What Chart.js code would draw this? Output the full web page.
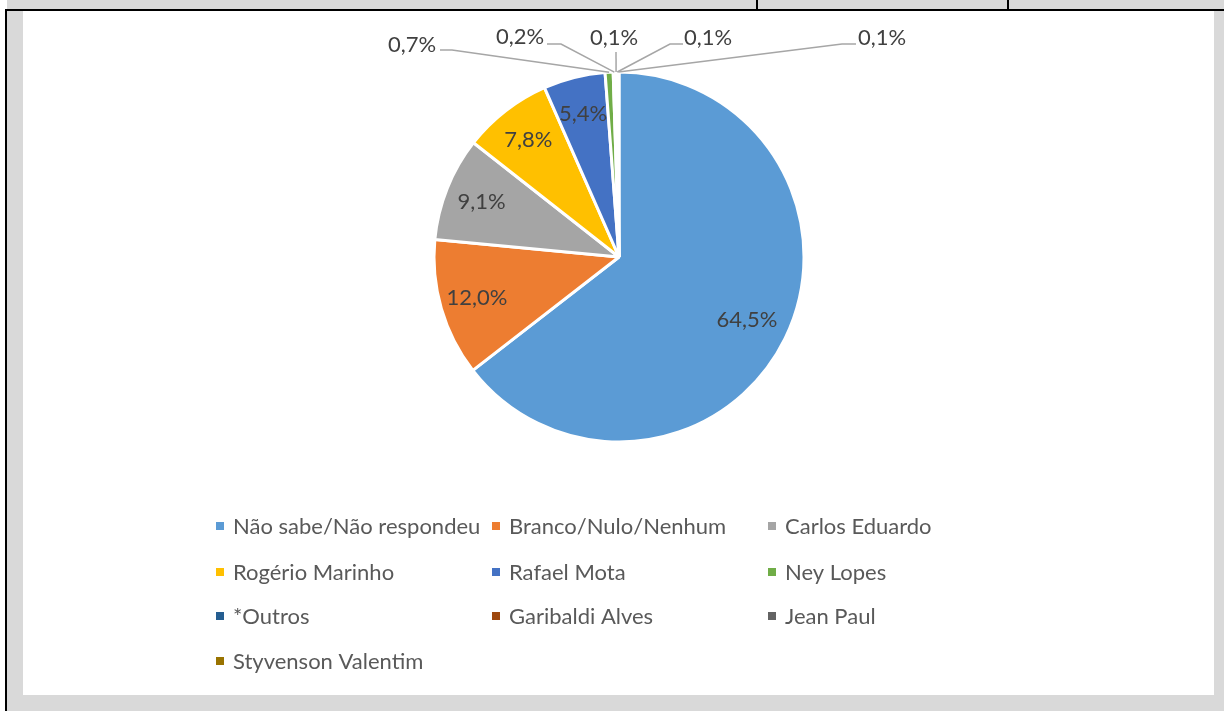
<!DOCTYPE html>
<html>
<head>
<meta charset="utf-8">
<script src="https://cdn.jsdelivr.net/npm/chart.js@4.4.1/dist/chart.umd.min.js"></script>
<style>
  html, body { margin: 0; padding: 0; background: #fff; }
  body { width: 1224px; height: 711px; position: relative; overflow: hidden; font-family: Lato, sans-serif; }
  .band { position: absolute; left: 7px; top: 0; width: 1217px; height: 9px; background: #d9d9d9; }
  .hline { position: absolute; left: 5px; top: 9px; width: 1219px; height: 2px; background: #000; }
  .vline { position: absolute; top: 0; width: 2px; height: 9px; background: #000; }
  .lline { position: absolute; left: 5px; top: 9px; width: 2px; height: 702px; background: #000; }
  .grey { position: absolute; left: 7px; top: 11px; right: 0; bottom: 0; background: #d9d9d9; }
  #wrap { position: absolute; left: 23px; top: 11px; width: 1191px; height: 684px; background: #fff; }
</style>
</head>
<body>
<div class="band"></div>
<div class="vline" style="left:756px"></div>
<div class="vline" style="left:1007px"></div>
<div class="hline"></div>
<div class="grey"></div>
<div class="lline"></div>
<div id="wrap"><canvas id="myChart" width="1191" height="684"></canvas></div>
<script>
const categories = ["Não sabe/Não respondeu", "Branco/Nulo/Nenhum", "Carlos Eduardo",
  "Rogério Marinho", "Rafael Mota", "Ney Lopes", "*Outros", "Garibaldi Alves",
  "Jean Paul", "Styvenson Valentim"];
const shares = [64.5, 12.0, 9.1, 7.8, 5.4, 0.7, 0.2, 0.1, 0.1, 0.1];
const colors = ["#5B9BD5", "#ED7D31", "#A5A5A5", "#FFC000", "#4472C4",
  "#70AD47", "#255E91", "#9E480E", "#636363", "#997300"];

// callout label placement for the thin slices, offsets from pie centre
const callouts = {
  5: { text: [-207, -212], stub: [[-179, -207], [-167, -207]] },
  6: { text: [-99, -220], stub: [[-72, -213], [-58, -213]] },
  7: { text: [-5, -219], stub: [[-3, -205], [-3, -205]] },
  8: { text: [89, -219], stub: [[64, -213], [51, -213]] },
  9: { text: [263, -219], stub: [[237, -213], [223, -213]] },
};

// legend grid (canvas px)
const legendCols = [193, 469, 745];
const legendRows = [515, 561, 605, 650];

const FONT = "22px Lato";

function fmt(v) {
  return v.toFixed(1).replace(".", ",") + "%";
}

const labelPlugin = {
  id: "pieLabels",
  afterDatasetsDraw(chart) {
    const ctx = chart.ctx;
    const arcs = chart.getDatasetMeta(0).data;
    ctx.save();
    ctx.font = FONT;
    ctx.textAlign = "center";
    ctx.textBaseline = "middle";
    arcs.forEach((arc, i) => {
      const { x, y, startAngle, endAngle, outerRadius } = arc.getProps(
        ["x", "y", "startAngle", "endAngle", "outerRadius"], true);
      const mid = (startAngle + endAngle) / 2;
      const c = callouts[i];
      if (!c) {
        const r = outerRadius * (i === 0 ? 0.77 : 0.8);
        ctx.fillStyle = "#404040";
        ctx.fillText(fmt(shares[i]), x + r * Math.cos(mid), y + r * Math.sin(mid));
        return;
      }
      const ax = x + outerRadius * Math.cos(mid);
      const ay = y + outerRadius * Math.sin(mid);
      ctx.strokeStyle = "#A6A6A6";
      ctx.lineWidth = 1.5;
      ctx.beginPath();
      ctx.moveTo(x + c.stub[0][0], y + c.stub[0][1]);
      ctx.lineTo(x + c.stub[1][0], y + c.stub[1][1]);
      ctx.lineTo(ax, ay);
      ctx.stroke();
      ctx.fillStyle = "#404040";
      ctx.fillText(fmt(shares[i]), x + c.text[0], y + c.text[1]);
    });
    ctx.restore();
  },
  afterDraw(chart) {
    const ctx = chart.ctx;
    ctx.save();
    ctx.font = FONT;
    ctx.textAlign = "left";
    ctx.textBaseline = "middle";
    categories.forEach((name, i) => {
      const col = legendCols[i % 3];
      const row = legendRows[Math.floor(i / 3)];
      ctx.fillStyle = colors[i];
      ctx.fillRect(col, row - 4, 8, 8);
      ctx.fillStyle = "#595959";
      ctx.fillText(name, col + 17, row + 1);
    });
    ctx.restore();
  },
};

new Chart(document.getElementById("myChart"), {
  type: "pie",
  data: {
    labels: categories,
    datasets: [{
      data: shares,
      backgroundColor: colors,
      borderColor: "#ffffff",
      borderWidth: 3,
      radius: 185,
    }],
  },
  options: {
    responsive: false,
    animation: false,
    layout: { padding: { left: 411, right: 410, top: 61, bottom: 253 } },
    plugins: {
      legend: { display: false },
      tooltip: { enabled: false },
    },
  },
  plugins: [labelPlugin],
});
</script>
</body>
</html>
